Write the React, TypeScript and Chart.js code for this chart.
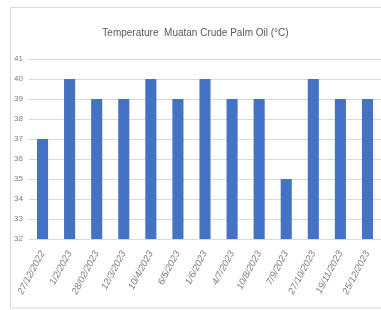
import React, { useEffect, useRef } from "react";
import { Chart, registerables } from "chart.js";

Chart.register(...registerables);

const categories = [
  "27/12/2022", "1/2/2023", "28/02/2023", "12/3/2023", "10/4/2023", "6/5/2023",
  "1/6/2023", "4/7/2023", "10/8/2023", "7/9/2023", "27/10/2023", "19/11/2023", "25/12/2023",
];
const temperatures = [37, 40, 39, 39, 40, 39, 40, 39, 39, 35, 40, 39, 39];
const yMin = 32;
const yMax = 41;
const titleText = "Temperature  Muatan Crude Palm Oil (°C)";

const FONT = "'Liberation Sans', Arial, sans-serif";

export default function App() {
  const ref = useRef<HTMLCanvasElement | null>(null);
  useEffect(() => {
    document.body.style.margin = "0";
    const frame = {
      id: "frame",
      beforeDraw(chart: any) {
        const ctx = chart.ctx;
        ctx.save();
        ctx.fillStyle = "#ffffff";
        ctx.fillRect(0, 0, chart.width, chart.height);
        ctx.strokeStyle = "#d9d9d9";
        ctx.lineWidth = 1;
        ctx.strokeRect(10.5, 7.5, 400, 300.5);
        ctx.restore();
      },
    };
    const chart = new Chart(ref.current!, {
      type: "bar",
      data: {
        labels: categories,
        datasets: [
          {
            data: temperatures,
            backgroundColor: "#4472C4",
            categoryPercentage: 1,
            barPercentage: 0.41,
          },
        ],
      },
      options: {
        animation: false,
        responsive: false,
        layout: { padding: { left: 10, right: 0, top: 0, bottom: 0 } },
        plugins: {
          legend: { display: false },
          tooltip: { enabled: false },
          title: {
            display: true,
            text: titleText,
            color: "#595959",
            font: { family: FONT, size: 10, weight: "normal" },
            padding: { top: 27, bottom: 20 },
          },
        },
        scales: {
          x: {
            grid: { display: false },
            border: { display: false },
            ticks: {
              color: "#7f7f7f",
              font: { family: FONT, size: 9.5, style: "italic" },
              maxRotation: 62,
              minRotation: 62,
              autoSkip: false,
              padding: 2,
            },
            afterFit(scale: any) {
              scale.height = 310 - 239;
            },
          },
          y: {
            min: yMin,
            max: yMax,
            grid: { color: "#d9d9d9", drawTicks: false },
            border: { display: false },
            ticks: {
              stepSize: 1,
              color: "#7f7f7f",
              font: { family: FONT, size: 8 },
              padding: 6,
            },
            afterFit(scale: any) {
              scale.width = 19;
            },
          },
        },
      },
      plugins: [frame],
    });
    return () => chart.destroy();
  }, []);
  return (
    <div style={{ width: 381, height: 310 }}>
      <canvas ref={ref} width={381} height={310} style={{ display: "block" }} />
    </div>
  );
}
